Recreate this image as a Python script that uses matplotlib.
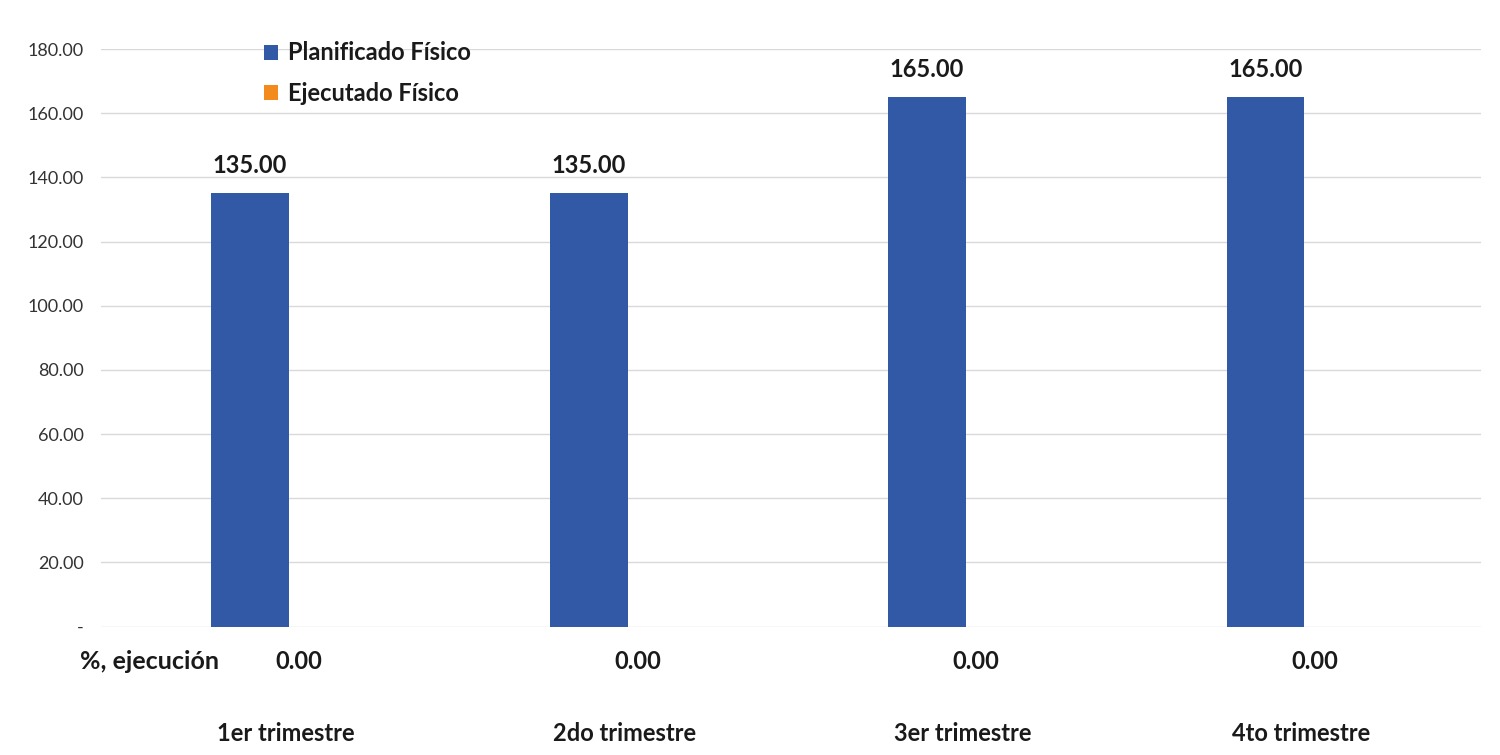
import numpy as np
import matplotlib
matplotlib.use('Agg')
import matplotlib.pyplot as plt
from matplotlib.ticker import FuncFormatter
from matplotlib.transforms import blended_transform_factory

TRIMESTRES = ['1er trimestre', '2do trimestre', '3er trimestre', '4to trimestre']
PLANIFICADO = [135.00, 135.00, 165.00, 165.00]
EJECUTADO = [0.00, 0.00, 0.00, 0.00]
PORC_EJECUCION = [0.00, 0.00, 0.00, 0.00]

AZUL = '#3259a6'
NARANJA = '#f28a1d'
TEXTO = '#1a1a1a'

plt.rcParams['font.family'] = ['Lato', 'DejaVu Sans']

fig = plt.figure(figsize=(15, 7.55), dpi=100)
ax = fig.add_axes([0.067, 0.17, 0.92, 0.765])

x = np.arange(len(TRIMESTRES))
ancho = 0.23
barras = ax.bar(x - 0.105, PLANIFICADO, ancho, color=AZUL, label='Planificado Físico', zorder=3)
ax.bar(x + 0.125, EJECUTADO, ancho, color=NARANJA, label='Ejecutado Físico', zorder=3)

# etiquetas de valor sobre las barras planificadas
for rect, valor in zip(barras, PLANIFICADO):
    ax.text(rect.get_x() + rect.get_width() / 2, valor + 5, f'{valor:.2f}',
            ha='center', va='bottom', fontsize=17, fontweight='bold', color=TEXTO)

ax.set_ylim(0, 180)
ax.set_yticks(np.arange(0, 181, 20))
ax.yaxis.set_major_formatter(FuncFormatter(lambda v, p: '-' if v == 0 else f'{v:.2f}'))
ax.tick_params(axis='y', length=0, labelsize=13, labelcolor='#333333', pad=12)
ax.set_xlim(-0.547, 3.53)
ax.set_xticks([])
ax.grid(axis='y', color='#d9d9d9', linewidth=1, zorder=0)
for lado in ['top', 'right', 'left', 'bottom']:
    ax.spines[lado].set_visible(False)

# fila de % de ejecucion y nombres de trimestre
trans = blended_transform_factory(ax.transData, ax.transAxes)
ax.text(-0.0145, -0.06, '%, ejecución', transform=ax.transAxes, ha='left', va='center',
        fontsize=18, fontweight='bold', color=TEXTO)
for i, (nombre, porc) in enumerate(zip(TRIMESTRES, PORC_EJECUCION)):
    ax.text(i + 0.04, -0.06, f'{porc:.2f}', transform=trans, ha='center', va='center',
            fontsize=17, fontweight='bold', color=TEXTO)
    ax.text(i, -0.185, nombre, transform=trans, ha='center', va='center',
            fontsize=17, fontweight='bold', color=TEXTO)

ax.legend(loc='upper left', bbox_to_anchor=(0.103, 1.05), frameon=False,
          prop={'size': 17, 'weight': 'bold'}, handlelength=0.6, handleheight=0.6,
          handletextpad=0.4, labelspacing=0.75, labelcolor=TEXTO)

fig.savefig('out.png', dpi=100, facecolor='white')
